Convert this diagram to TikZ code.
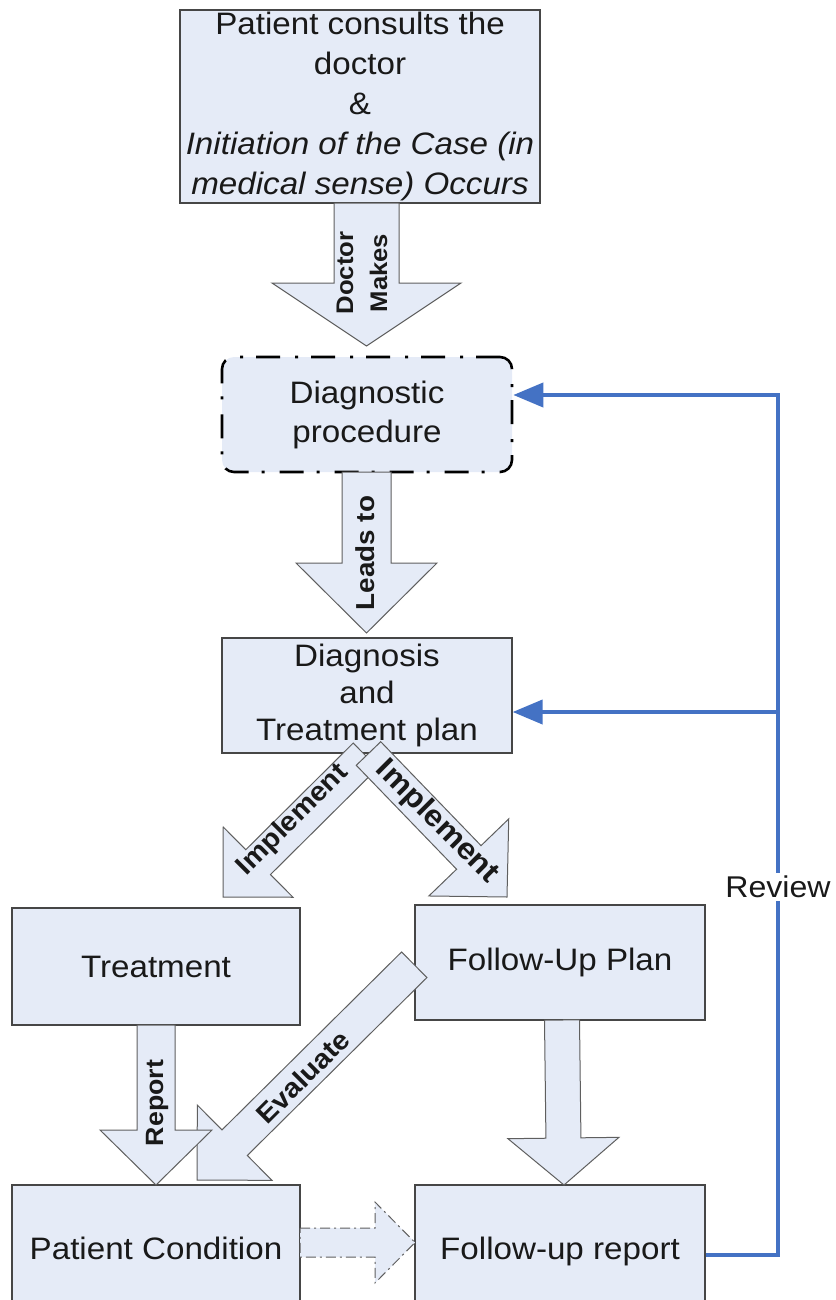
\documentclass[tikz,border=0pt]{standalone}
\usepackage{fontspec}
\setmainfont[FakeStretch=1.07]{Liberation Sans}
\usetikzlibrary{calc,arrows.meta}
\definecolor{boxfill}{RGB}{229,235,247}
\definecolor{boxline}{RGB}{70,70,70}
\definecolor{arrline}{RGB}{95,95,95}
\definecolor{reviewblue}{RGB}{68,114,196}
\definecolor{txt}{RGB}{25,25,25}
% block arrow: #1 start, #2 tip, #3 half shaft, #4 half head, #5 head length, #6 style
\newcommand\blockarr[6]{%
  \coordinate (ba-q) at ($(#2)!#5!(#1)$);
  \draw[#6] ($(#1)!#3!90:(#2)$) -- ($(ba-q)!#3!-90:(#1)$) -- ($(ba-q)!#4!-90:(#1)$)
    -- (#2) -- ($(ba-q)!#4!90:(#1)$) -- ($(ba-q)!#3!90:(#1)$) -- ($(#1)!#3!-90:(#2)$) -- cycle;}
\begin{document}
\begin{tikzpicture}[x=1pt,y=-1pt,
  box/.style={draw=boxline, line width=1.3pt, fill=boxfill, text=txt, align=center, inner sep=0pt,
    font=\fontsize{31}{40}\selectfont},
  barr/.style={draw=arrline, line width=1pt, fill=boxfill, line join=miter},
  alabel/.style={text=txt, align=center, inner sep=0pt},
  review/.style={draw=reviewblue, line width=4pt, line join=miter},
  revtip/.style={-{Triangle[length=30pt,width=24pt]}}
]
\useasboundingbox (0,0) rectangle (835,1300);

% boxes
\node[box, minimum width=360pt, minimum height=193pt] (top) at (360,106.5)
  {Patient consults the\\doctor\\\&\\\textit{Initiation of the Case (in}\\\textit{medical sense) Occurs}};
\node[box, draw=black, line width=2.6pt, dash pattern=on 24pt off 13pt on 3pt off 15pt,
  rounded corners=12pt, minimum width=290pt, minimum height=115pt,
  font=\fontsize{31}{39}\selectfont] (diag) at (367,414.5) {Diagnostic\\procedure};
\node[box, minimum width=290pt, minimum height=115pt, font=\fontsize{31}{37}\selectfont]
  (dtp) at (367,695.5) {Diagnosis\\and\\Treatment plan};
\node[box, minimum width=288pt, minimum height=117pt] (treat) at (156,966.5) {Treatment};
\node[box, minimum width=290pt, minimum height=115pt] (fplan) at (560,962.5) {Follow-Up Plan};
\node[box, minimum width=288pt, minimum height=140pt] (pcond) at (156,1255) {\raisebox{13pt}{Patient Condition}};
\node[box, minimum width=290pt, minimum height=140pt] (frep) at (560,1255) {\raisebox{13pt}{Follow-up report}};

% block arrow end points
\coordinate (a1s) at (366.5,203);   \coordinate (a1t) at (366.5,346);
\coordinate (a2s) at (366.5,472);   \coordinate (a2t) at (366.5,633);
\coordinate (a3s) at (365.5,755.5); \coordinate (a3t) at (223,897);
\coordinate (a4s) at (368.5,753.5); \coordinate (a4t) at (507,897);
\coordinate (a5s) at (414.25,964.75); \coordinate (a5t) at (197,1180);
\coordinate (a6s) at (156,1025);    \coordinate (a6t) at (156,1185);
\coordinate (a7s) at (562,1020);    \coordinate (a7t) at (564,1185);
\coordinate (a8s) at (300,1242.5);  \coordinate (a8t) at (415,1242.5);

\blockarr{a1s}{a1t}{32.5pt}{94.5pt}{63pt}{barr}
\blockarr{a2s}{a2t}{24.5pt}{70.5pt}{70pt}{barr}
\blockarr{a3s}{a3t}{17.5pt}{49.5pt}{49.5pt}{barr}
\blockarr{a4s}{a4t}{17pt}{55.5pt}{55pt}{barr}
\blockarr{a5s}{a5t}{18pt}{53pt}{53pt}{barr}
\blockarr{a6s}{a6t}{19pt}{56pt}{55pt}{barr}
\blockarr{a7s}{a7t}{17.5pt}{55.5pt}{47pt}{barr}
\blockarr{a8s}{a8t}{14.5pt}{40.5pt}{40pt}{barr, dash pattern=on 10pt off 4pt on 2pt off 4pt}

% arrow labels
\node[alabel, rotate=90, font=\bfseries\fontsize{24}{34}\selectfont] (l1) at (362,273) {Doctor\\Makes};
\node[alabel, rotate=90, font=\bfseries\fontsize{26}{30}\selectfont] (l2) at (365,553) {Leads to};
\node[alabel, rotate=45, font=\bfseries\fontsize{27}{30}\selectfont] (l3) at (293,820) {Implement};
\node[alabel, rotate=-45, font=\bfseries\fontsize{30}{34}\selectfont] (l4) at (437,822) {Implement};
\node[alabel, rotate=45, font=\bfseries\fontsize{27}{30}\selectfont] (l5) at (303,1077) {Evaluate};
\node[alabel, rotate=90, font=\bfseries\fontsize{25}{30}\selectfont] (l6) at (157,1103) {Report};

% review loop
\coordinate (r1) at (778,395);
\coordinate (r2) at (778,712);
\draw[review, revtip] (frep.east) -| (r1) -- (r1 -| diag.east);
\draw[review, revtip] (r2) -- (r2 -| dtp.east);
\node[fill=white, text=txt, inner sep=3pt, font=\fontsize{30}{36}\selectfont] (rv) at (778,887) {Review};
\end{tikzpicture}
\end{document}
